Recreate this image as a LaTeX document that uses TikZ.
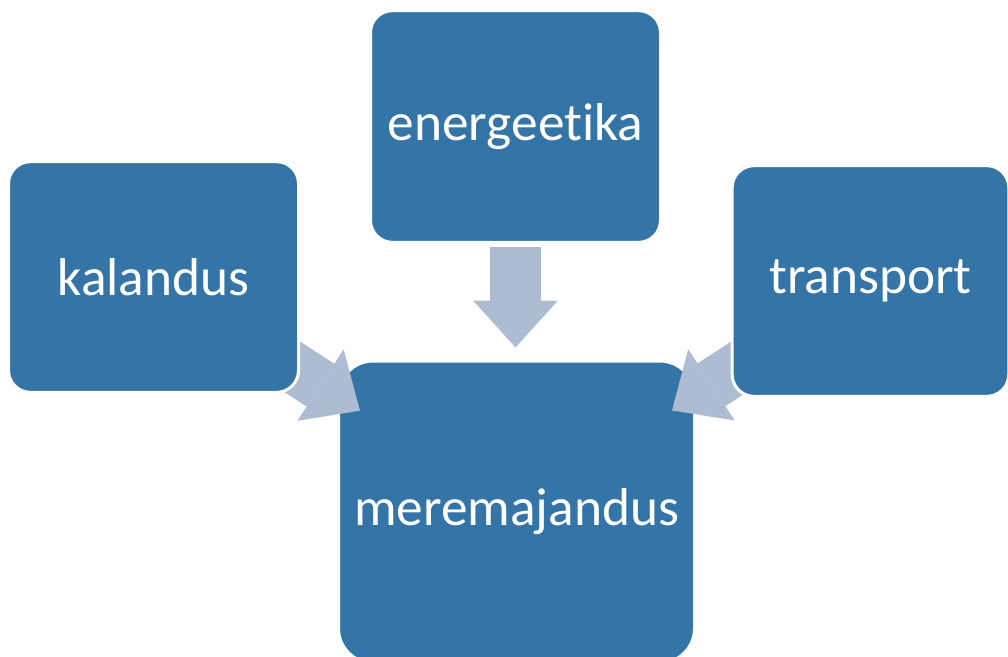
\documentclass[tikz,border=0pt]{standalone}
\usepackage{fontspec}
\setmainfont{Carlito}[Ligatures=NoCommon]
\usepackage{tikz}
\usetikzlibrary{calc, arrows.meta, backgrounds}
\usepackage{xcolor}
\definecolor{SeaBlue}{HTML}{3474A6}
\definecolor{MistBlue}{HTML}{ADBCD1}

\begin{document}
\begin{tikzpicture}[x=0.75pt, y=-0.75pt,
    sector/.style={draw=white, line width=2.25pt, fill=SeaBlue,
      rounded corners=16.5pt, minimum width=217.5pt, minimum height=173pt,
      inner sep=0pt, text=white, font=\fontsize{40}{44}\selectfont},
    flow/.style={MistBlue, line width=38.25pt,
      -{Triangle[width=63.75pt, length=35.25pt, line width=0pt]}}]
  \useasboundingbox (0,0) rectangle (1008,657);
  % the three outer boxes
  \node[sector] (kal) at (153.5,277) {kalandus};
  \node[sector, minimum height=173.75pt] (ener) at (515.5,126.5) {energeetika};
  \node[sector, minimum width=207.5pt] (trans) at (870.5,281) {transport};
  % centre box and arrows lie below them
  \begin{scope}[on background layer]
    \fill[white] (0,0) rectangle (1008,657);
    \node[sector, rounded corners=26pt, minimum width=267pt,
          minimum height=226.5pt] (mere) at (516.5,512) {meremajandus};
    \draw[flow] ($(kal.center)!108.75pt!(mere.center)$)
             -- ($(kal.center)!184.5pt!(mere.center)$);
    \draw[flow] ($(ener.center)+(0,120)$) -- ($(ener.center)+(0,221)$);
    \draw[flow] ($(trans.center)!102pt!(mere.center)$)
             -- ($(trans.center)!177.75pt!(mere.center)$);
  \end{scope}
\end{tikzpicture}
\end{document}
